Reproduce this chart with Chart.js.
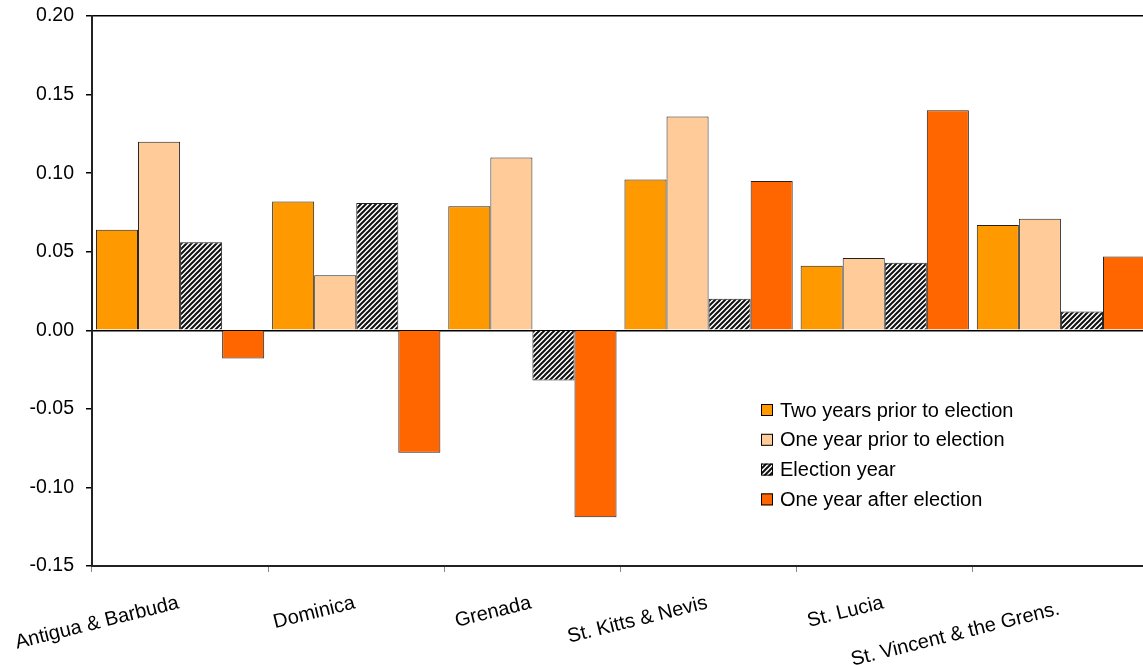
<!DOCTYPE html>
<html>
<head>
<meta charset="utf-8">
<script src="https://cdn.jsdelivr.net/npm/chart.js@4.4.1/dist/chart.umd.min.js"></script>
<style>
  html, body { margin: 0; padding: 0; background: #fff; overflow: hidden; }
  #wrap { position: relative; width: 1160px; height: 665px; }
</style>
</head>
<body>
<div id="wrap"><canvas id="c" width="1160" height="665"></canvas></div>
<script>
// Countries along the category axis
const countries = [
  'Antigua & Barbuda', 'Dominica', 'Grenada',
  'St. Kitts & Nevis', 'St. Lucia', 'St. Vincent & the Grens.'
];

// Series names, in legend order
const seriesNames = [
  'Two years prior to election',
  'One year prior to election',
  'Election year',
  'One year after election'
];

// Values for each series, one per country
const twoYearsPrior = [0.064, 0.082, 0.079, 0.096, 0.041, 0.067];
const oneYearPrior  = [0.120, 0.035, 0.110, 0.136, 0.046, 0.071];
const electionYear  = [0.056, 0.081, -0.032, 0.020, 0.043, 0.012];
const oneYearAfter  = [-0.018, -0.078, -0.119, 0.095, 0.140, 0.047];

// Value axis range and step
const yMin = -0.15;
const yMax = 0.20;
const yStep = 0.05;

const FONT = "'Liberation Sans', Arial, Helvetica, sans-serif";
const TICK_SIZE = 19.5;
const TEXT_SIZE = 20;

const canvas = document.getElementById('c');
const ctx = canvas.getContext('2d');

// Black/white upward diagonal hatch
function diagonalHatch(g) {
  const s = 5;
  const tile = document.createElement('canvas');
  tile.width = s; tile.height = s;
  const t = tile.getContext('2d');
  t.fillStyle = '#ffffff';
  t.fillRect(0, 0, s, s);
  t.strokeStyle = '#111111';
  t.lineWidth = 2;
  t.beginPath();
  for (let k = -1; k <= 1; k++) {
    t.moveTo(k * s - 1, s + 1);
    t.lineTo(k * s + s + 1, -1);
  }
  t.stroke();
  return g.createPattern(tile, 'repeat');
}
const hatch = diagonalHatch(ctx);

// Slanted category labels drawn under the axis
const slantedLabels = {
  id: 'slantedLabels',
  afterDraw(chart, args, opts) {
    const sc = chart.scales.x;
    const g = chart.ctx;
    g.save();
    g.font = `${opts.size}px ${FONT}`;
    g.fillStyle = '#000';
    g.textAlign = 'right';
    g.textBaseline = 'top';
    chart.data.labels.forEach((lab, i) => {
      const x = sc.getPixelForTick(i) + opts.dx;
      const y = sc.top + opts.dy + (opts.drop[i] || 0);
      g.save();
      g.translate(x, y);
      g.rotate(-opts.angle * Math.PI / 180);
      g.fillText(lab, 0, 0);
      g.restore();
    });
    g.restore();
  }
};

// Legend with square swatches placed inside the plot
const boxLegend = {
  id: 'boxLegend',
  afterDraw(chart, args, opts) {
    const g = chart.ctx;
    g.save();
    g.font = `${opts.size}px ${FONT}`;
    g.textBaseline = 'middle';
    g.textAlign = 'left';
    chart.data.datasets.forEach((ds, i) => {
      const cy = opts.top + i * opts.gap;
      const b = opts.box;
      g.fillStyle = ds.backgroundColor;
      g.fillRect(opts.left, cy - b / 2, b, b);
      g.strokeStyle = '#000';
      g.lineWidth = 1;
      g.strokeRect(opts.left + 0.5, cy - b / 2 + 0.5, b - 1, b - 1);
      g.fillStyle = '#000';
      g.fillText(ds.label, opts.left + opts.textGap, cy + 1);
    });
    g.restore();
  }
};

const isLine = v => Math.abs(v) < 1e-9 || Math.abs(v - yMax) < 1e-9;

new Chart(ctx, {
  type: 'bar',
  data: {
    labels: countries,
    datasets: [
      { label: seriesNames[0], data: twoYearsPrior, backgroundColor: '#FF9900' },
      { label: seriesNames[1], data: oneYearPrior,  backgroundColor: '#FFCC99' },
      { label: seriesNames[2], data: electionYear,  backgroundColor: hatch },
      { label: seriesNames[3], data: oneYearAfter,  backgroundColor: '#FF6600' }
    ]
  },
  options: {
    responsive: false,
    animation: false,
    events: [],
    layout: { padding: { top: 16, right: 11, left: 0, bottom: 0 } },
    datasets: {
      bar: {
        categoryPercentage: 0.955,
        barPercentage: 1.0,
        borderWidth: 1,
        borderColor: '#222'
      }
    },
    plugins: {
      legend: { display: false },
      tooltip: { enabled: false },
      title: { display: false },
      slantedLabels: { size: TEXT_SIZE, angle: 14, dx: -4, dy: 27, drop: [0, 0, 0, 0, 0, 6] },
      boxLegend: { size: TEXT_SIZE, left: 761, top: 410, gap: 29.8, box: 12, textGap: 19 }
    },
    scales: {
      x: {
        offset: true,
        grid: { color: 'rgba(0,0,0,0)', tickColor: '#888', tickLength: 6, offset: true },
        border: { color: '#222', width: 2 },
        ticks: { display: false },
        afterFit: s => { s.height = 99; }
      },
      y: {
        min: yMin,
        max: yMax,
        ticks: {
          stepSize: yStep,
          color: '#000',
          padding: 12,
          font: { family: FONT, size: TICK_SIZE },
          callback: v => (Math.abs(v) < 1e-9 ? 0 : v).toFixed(2)
        },
        grid: {
          color: c => (c.tick && isLine(c.tick.value)) ? '#000' : 'rgba(0,0,0,0)',
          lineWidth: 1.5,
          tickColor: '#000',
          tickLength: 6
        },
        border: { color: '#222', width: 2 },
        afterFit: s => { s.width = 92; s.paddingTop = 0; s.paddingBottom = 0; }
      }
    }
  },
  plugins: [slantedLabels, boxLegend]
});
</script>
</body>
</html>
